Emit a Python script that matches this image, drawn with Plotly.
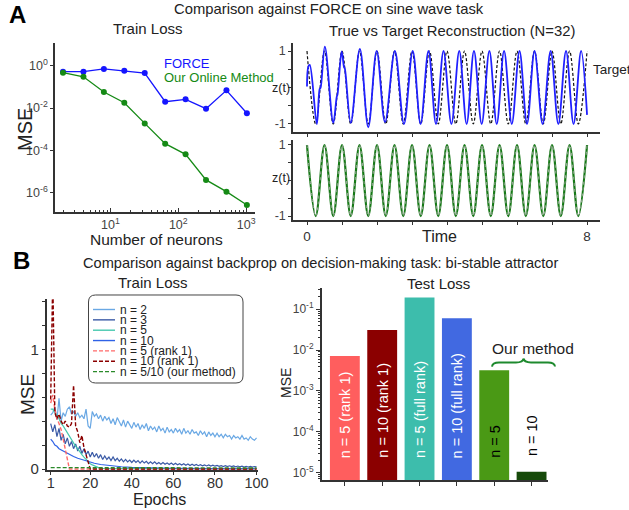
import plotly.graph_objects as go

W, H = 629, 510
FONT = "Liberation Sans, Arial, sans-serif"
AX = "#333333"
TXT = "#222222"


def fx(p):
    return p / W


def fy(p):
    return 1 - p / H


# ---------------- Panel A (left): train loss vs number of neurons ----------------
neurons = [2, 4, 8, 16, 32, 64, 128, 256, 512, 1024]
force_mse = [0.52, 0.52, 0.70, 0.58, 0.45, 0.020, 0.026, 0.0094, 0.069, 0.0057]
online_mse = [0.47, 0.30, 0.057, 0.018, 0.0019, 2.1e-4, 6.6e-5, 4.1e-6, 1.15e-6, 2.7e-7]
a_ytick_vals = [1, 1e-2, 1e-4, 1e-6]
a_ytick_text = ["10<sup>0</sup>", "10<sup>-2</sup>", "10<sup>-4</sup>", "10<sup>-6</sup>"]
a_xtick_vals = [10, 100, 1000]
a_xtick_text = ["10<sup>1</sup>", "10<sup>2</sup>", "10<sup>3</sup>"]

# ---------------- Panel A (right): reconstructions (extrema) ----------------
target_time = [0.0, 0.25, 0.5, 0.75, 1.0, 1.25, 1.5, 1.75, 2.0, 2.25, 2.5, 2.75, 3.0, 3.25, 3.5, 3.75,
               4.0, 4.25, 4.5, 4.75, 5.0, 5.25, 5.5, 5.75, 6.0, 6.25, 6.5, 6.75, 7.0, 7.25, 7.5, 7.75, 8.0]
target_z = [1, -1, 1, -1, 1, -1, 1, -1, 1, -1, 1, -1, 1, -1, 1, -1,
            1, -1, 1, -1, 1, -1, 1, -1, 1, -1, 1, -1, 1, -1, 1, -1, 1]
force_time = [0.0, 0.04, 0.08, 0.28, 0.36, 0.39, 0.51, 0.75, 0.85, 0.87, 0.99, 1.06, 1.08, 1.25,
              1.51, 1.75, 1.99, 2.23, 2.51, 2.77, 3.02, 3.245, 3.47, 3.685, 3.9, 4.125, 4.35, 4.56,
              4.77, 4.99, 5.21, 5.42, 5.63, 5.85, 6.07, 6.285, 6.5, 6.73, 6.96, 7.18, 7.4, 7.615,
              7.83, 8.0]
force_z = [0.03, 0.58, 0.62, -1.0, -0.05, 0.0, 1.12, -0.97, -0.25, -0.2, 0.99, 0.55, 0.52, -0.97,
           1.06, -1.09, 1.0, -0.95, 1.0, -1.0, 1.0, -1.0, 1.0, -1.0, 1.0, -1.0, 1.0, -1.0,
           1.0, -1.0, 1.0, -1.0, 1.0, -1.0, 1.0, -1.0, 1.0, -1.0, 1.0, -1.0, 1.0, -1.0,
           1.0, -0.75]
online_time = target_time
online_z = target_z

# ---------------- Panel B (left): train loss vs epochs ----------------
epochs = list(range(1, 101))
loss_n2 = [0.45, 0.47, 0.52, 0.41, 0.59, 0.40, 0.47, 0.44, 0.50, 0.52,
           0.46, 0.48, 0.44, 0.47, 0.43, 0.45, 0.42, 0.50, 0.36, 0.34,
           0.48, 0.44, 0.46, 0.42, 0.45, 0.40, 0.44, 0.41, 0.43, 0.38,
           0.42, 0.37, 0.43, 0.39, 0.36, 0.41, 0.35, 0.40, 0.37, 0.34,
           0.39, 0.35, 0.38, 0.33, 0.37, 0.34, 0.38, 0.32, 0.36, 0.33,
           0.35, 0.31, 0.36, 0.32, 0.34, 0.30, 0.35, 0.31, 0.33, 0.30,
           0.34, 0.31, 0.33, 0.29, 0.34, 0.30, 0.32, 0.29, 0.33, 0.30,
           0.31, 0.28, 0.32, 0.29, 0.31, 0.27, 0.31, 0.28, 0.30, 0.27,
           0.30, 0.27, 0.29, 0.26, 0.29, 0.27, 0.28, 0.25, 0.28, 0.26,
           0.27, 0.25, 0.28, 0.25, 0.26, 0.24, 0.27, 0.25, 0.24, 0.26]
loss_n3 = [0.38, 0.31, 0.37, 0.27, 0.34, 0.24, 0.29, 0.21, 0.26, 0.19,
           0.23, 0.17, 0.21, 0.15, 0.19, 0.13, 0.17, 0.12, 0.15, 0.10,
           0.14, 0.10, 0.13, 0.09, 0.12, 0.08, 0.11, 0.08, 0.10, 0.07,
           0.10, 0.07, 0.09, 0.065, 0.085, 0.06, 0.08, 0.06, 0.075, 0.055,
           0.075, 0.055, 0.07, 0.05, 0.068, 0.05, 0.065, 0.045, 0.06, 0.045,
           0.06, 0.042, 0.055, 0.04, 0.055, 0.04, 0.05, 0.038, 0.05, 0.036,
           0.048, 0.035, 0.045, 0.033, 0.044, 0.032, 0.042, 0.03, 0.04, 0.03,
           0.038, 0.028, 0.036, 0.027, 0.035, 0.026, 0.034, 0.025, 0.032, 0.024,
           0.03, 0.022, 0.029, 0.021, 0.028, 0.02, 0.027, 0.02, 0.026, 0.019,
           0.025, 0.018, 0.024, 0.017, 0.023, 0.017, 0.022, 0.016, 0.021, 0.018]
epochs_n5 = [1, 2, 3, 4, 5, 6, 7, 8, 9, 10, 11, 12, 13, 14, 15, 16, 17, 18, 19, 20, 21, 22, 23, 24,
             25, 26, 30, 40, 60, 80, 100]
loss_n5 = [0.50, 0.50, 0.47, 0.45, 0.42, 0.38, 0.36, 0.33, 0.30, 0.27, 0.25, 0.22, 0.19, 0.17,
           0.14, 0.12, 0.10, 0.08, 0.06, 0.045, 0.035, 0.025, 0.018, 0.012, 0.008, 0.005,
           0.004, 0.003, 0.002, 0.0015, 0.001]
epochs_n10 = [1, 2, 3, 4, 5, 6, 7, 8, 9, 10, 12, 14, 16, 18, 20, 22, 25, 30, 35, 40, 50, 60, 80, 100]
loss_n10 = [0.25, 0.23, 0.20, 0.19, 0.17, 0.16, 0.15, 0.14, 0.13, 0.12, 0.105, 0.09, 0.078, 0.067,
            0.057, 0.048, 0.038, 0.027, 0.019, 0.014, 0.009, 0.006, 0.004, 0.003]
epochs_r1_n5 = [1, 2, 3, 4, 5, 6, 7, 8, 9, 10, 100]
loss_r1_n5 = [0.55, 0.62, 0.50, 0.42, 0.38, 0.33, 0.25, 0.17, 0.08, 0.0, 0.0]
epochs_r1_n10 = [1, 2, 3, 4, 5, 6, 7, 8, 9, 10, 11, 12, 13, 14, 15, 16, 17, 18, 19, 20, 100]
loss_r1_n10 = [0.58, 1.60, 0.47, 0.42, 0.46, 0.40, 0.37, 0.40, 0.36, 0.35, 0.38, 0.70, 0.36, 0.31,
               0.22, 0.28, 0.18, 0.12, 0.05, 0.0, 0.0]
epochs_ours = [1, 100]
loss_ours = [0.012, 0.009]

# ---------------- Panel B (right): test loss ----------------
test_labels = ["n = 5 (rank 1)", "n = 10 (rank 1)", "n = 5 (full rank)", "n = 10 (full rank)",
               "n = 5", "n = 10"]
test_mse = [0.0072, 0.031, 0.195, 0.060, 0.0032, 1.05e-5]
bar_colors = ["#FF5E5E", "#8B0000", "#3DBDAC", "#4169E1", "#4A9915", "#164A0A"]
bar_text_colors = ["white", "white", "white", "white", "black", "black"]
b_ytick_vals = [1e-1, 1e-2, 1e-3, 1e-4, 1e-5]
b_ytick_text = ["10<sup>-1</sup>", "10<sup>-2</sup>", "10<sup>-3</sup>", "10<sup>-4</sup>", "10<sup>-5</sup>"]

# Legend entries of panel B (left)
legend_names = ["n = 2", "n = 3", "n = 5", "n = 10", "n = 5 (rank 1)", "n = 10 (rank 1)",
                "n = 5/10 (our method)"]
legend_colors = ["#6AA8E4", "#3A5AA6", "#46C8AE", "#2F62E6", "#FF6A6A", "#8B0000", "#2A8A2A"]
legend_dash = ["solid", "solid", "solid", "solid", "dash", "dash", "dash"]

fig = go.Figure()

# A left
fig.add_trace(go.Scatter(x=neurons, y=force_mse, mode="lines+markers", xaxis="x", yaxis="y",
                         line=dict(color="#1515FF", width=1.3), marker=dict(size=6, color="#1515FF")))
fig.add_trace(go.Scatter(x=neurons, y=online_mse, mode="lines+markers", xaxis="x", yaxis="y",
                         line=dict(color="#158A15", width=1.3), marker=dict(size=6, color="#158A15")))

# A right top
fig.add_trace(go.Scatter(x=target_time, y=target_z, mode="lines", xaxis="x2", yaxis="y2",
                         line=dict(color="#111111", width=1.2, dash="3px,2px", shape="spline")))
fig.add_trace(go.Scatter(x=force_time, y=force_z, mode="lines", xaxis="x2", yaxis="y2",
                         line=dict(color="#2020FF", width=1.8, shape="spline")))
# A right bottom
fig.add_trace(go.Scatter(x=online_time, y=online_z, mode="lines", xaxis="x3", yaxis="y3",
                         line=dict(color="#167A16", width=2.2, shape="spline")))
fig.add_trace(go.Scatter(x=target_time, y=target_z, mode="lines", xaxis="x3", yaxis="y3",
                         line=dict(color="#9AA59A", width=1.0, dash="3px,3px", shape="spline")))

# B left
series_b = [(epochs, loss_n2), (epochs, loss_n3), (epochs_n5, loss_n5), (epochs_n10, loss_n10),
            (epochs_r1_n5, loss_r1_n5), (epochs_r1_n10, loss_r1_n10), (epochs_ours, loss_ours)]
for (ex, ey), col, dsh in zip(series_b, legend_colors, legend_dash):
    fig.add_trace(go.Scatter(x=ex, y=ey, mode="lines", xaxis="x4", yaxis="y4",
                             line=dict(color=col, width=1.2 if dsh == "solid" else 1.4,
                                       dash="solid" if dsh == "solid" else "4px,2px")))

# B right
fig.add_trace(go.Bar(x=test_labels, y=test_mse, xaxis="x5", yaxis="y5", width=0.8,
                     marker=dict(color=bar_colors, line=dict(width=0))))


def axis(**kw):
    base = dict(showgrid=False, zeroline=False, showline=True, linecolor=AX, linewidth=1.5,
                tickcolor=AX, automargin=False,
                tickfont=dict(family=FONT, size=12.5, color="#444444"))
    base.update(kw)
    return base


minor_log_x = [m * 10 ** k for k in range(0, 4) for m in range(2, 10) if m * 10 ** k < 1400]
minor_log_b = [m * 10.0 ** k for k in range(-6, 0) for m in range(2, 10)]

fig.update_layout(
    template="none",
    width=W, height=H, margin=dict(l=0, r=0, t=0, b=0, autoexpand=False),
    paper_bgcolor="white", plot_bgcolor="white", showlegend=False,
    font=dict(family=FONT, color=TXT),
    xaxis=axis(domain=[fx(55), fx(255)], anchor="y", type="log", range=[0.183, 3.13],
               tickvals=a_xtick_vals, ticktext=a_xtick_text, ticks="inside", ticklen=4,
               minor=dict(tickmode="array", tickvals=minor_log_x, ticks="inside", ticklen=2,
                          tickcolor=AX, showgrid=False)),
    yaxis=axis(domain=[fy(212), fy(43)], anchor="x", type="log", range=[-6.9, 1.07],
               tickvals=a_ytick_vals, ticktext=a_ytick_text, ticks="outside", ticklen=3),
    xaxis2=axis(domain=[fx(293), fx(600)], anchor="y2", range=[-0.4, 8.37],
                tickvals=[0, 1, 2, 3, 4, 5, 6, 7, 8], showticklabels=False,
                ticks="outside", ticklen=3),
    yaxis2=axis(domain=[fy(132), fy(43)], anchor="x2", range=[-1.22, 1.22],
                tickvals=[-1, -0.5, 0, 0.5, 1], ticktext=["-1", "", "", "", "1"],
                ticks="outside", ticklen=3),
    xaxis3=axis(domain=[fx(293), fx(600)], anchor="y3", range=[-0.4, 8.37],
                tickvals=[0, 1, 2, 3, 4, 5, 6, 7, 8], ticktext=["0", "", "", "", "", "", "", "", "8"],
                ticks="outside", ticklen=3, tickfont=dict(family=FONT, size=13.5, color="#333333")),
    yaxis3=axis(domain=[fy(220), fy(140)], anchor="x3", range=[-1.11, 1.14],
                tickvals=[-1, -0.5, 0, 0.5, 1], ticktext=["-1", "", "", "", "1"],
                ticks="outside", ticklen=3),
    xaxis4=axis(domain=[fx(46.7), fx(258)], anchor="y4", range=[-0.92, 100.7],
                tickvals=[1, 20, 40, 60, 80, 100], ticks="outside", ticklen=3,
                ticklabelstandoff=-4,
                tickfont=dict(family=FONT, size=14.5, color="#333333")),
    yaxis4=axis(domain=[fy(470), fy(299)], anchor="x4", range=[-0.008, 1.42],
                tickvals=[0, 0.2, 0.4, 0.6, 0.8, 1.0, 1.2, 1.4],
                ticktext=["0", "", "", "", "", "1", "", ""], ticks="outside", ticklen=3,
                tickfont=dict(family=FONT, size=15, color="#333333")),
    xaxis5=axis(domain=[fx(321.7), fx(548)], anchor="y5", type="category", range=[-0.62, 5.44],
                showticklabels=False, ticks="outside", ticklen=4),
    yaxis5=axis(domain=[fy(480), fy(288)], anchor="x5", type="log", range=[-5.18, -0.48],
                tickvals=b_ytick_vals, ticktext=b_ytick_text, ticks="outside", ticklen=4,
                tickfont=dict(family=FONT, size=12, color="#444444"),
                minor=dict(tickmode="array", tickvals=minor_log_b, ticks="outside", ticklen=2,
                           tickcolor=AX, showgrid=False)),
    bargap=0.2,
)

ann = []


def text(t, x, y, size, color=TXT, angle=0, xanchor="center", yanchor="middle", bold=False):
    ann.append(dict(text=f"<b>{t}</b>" if bold else t, x=x, y=y, xref="paper", yref="paper",
                    showarrow=False, textangle=angle, xanchor=xanchor, yanchor=yanchor,
                    font=dict(family=FONT, size=size, color=color)))


text("A", fx(17), fy(14), 24, bold=True, color="black")
text("B", fx(21), fy(260), 24, bold=True, color="black")
text("Comparison against FORCE on sine wave task", fx(329), fy(9), 14.8)
text("Train Loss", fx(147), fy(28), 15)
text("True vs Target Reconstruction (N=32)", fx(452), fy(31), 14.8)
text("FORCE", fx(162), fy(63), 13, color="#1515FF", xanchor="left")
text("Our Online Method", fx(162), fy(77), 13, color="#158A15", xanchor="left")
text("MSE", fx(25), fy(130), 20, angle=-90)
text("Number of neurons", fx(156), fy(239), 15.5)
text("z(t)", fx(281), fy(88), 12.5)
text("z(t)", fx(281), fy(178), 12.5)
text("Target", fx(591), fy(70), 13.5, xanchor="left")
text("Time", fx(439), fy(236), 16)
text("Comparison against backprop on decision-making task: bi-stable attractor", fx(320), fy(263), 14.6)
text("Train Loss", fx(152), fy(282), 15)
text("Test Loss", fx(438), fy(283), 15)
text("MSE", fx(27), fy(395), 19, angle=-90)
text("Epochs", fx(159), fy(499), 16)
text("MSE", fx(286), fy(383), 14, angle=-90)
text("Our method", fx(533), fy(348), 15.5)

# bar labels (rotated) anchored at their bottom
for i, (lab, col) in enumerate(zip(test_labels, bar_text_colors)):
    ybot = 460 if i < 5 else 458
    ann.append(dict(text=lab, x=lab, y=fy(ybot), xref="x5", yref="paper", showarrow=False,
                    textangle=-90, xanchor="center", yanchor="bottom",
                    font=dict(family=FONT, size=14.5, color=col)))

# legend of panel B left
shapes = []
for k, (name, col, dsh) in enumerate(zip(legend_names, legend_colors, legend_dash)):
    yy = 309.5 + k * 10.35
    shapes.append(dict(type="line", xref="paper", yref="paper", x0=fx(93), x1=fx(115),
                       y0=fy(yy), y1=fy(yy),
                       line=dict(color=col, width=1.4, dash="solid" if dsh == "solid" else "4px,2px")))
    text(name, fx(118), fy(yy), 12, xanchor="left")


def P(px, py):
    return f"{fx(px):.5f},{fy(py):.5f}"


x0, y0, x1, y1, r = 88.5, 295, 243, 383, 7
legend_path = (f"M {P(x0 + r, y0)} L {P(x1 - r, y0)} Q {P(x1, y0)} {P(x1, y0 + r)} "
               f"L {P(x1, y1 - r)} Q {P(x1, y1)} {P(x1 - r, y1)} L {P(x0 + r, y1)} "
               f"Q {P(x0, y1)} {P(x0, y1 - r)} L {P(x0, y0 + r)} Q {P(x0, y0)} {P(x0 + r, y0)} Z")
shapes.append(dict(type="path", xref="paper", yref="paper", path=legend_path,
                   line=dict(color="#444444", width=1), fillcolor="rgba(255,255,255,0)"))

brace_path = (f"M {P(492, 366.5)} Q {P(492.5, 362.5)} {P(499, 362.5)} L {P(516, 362.5)} "
              f"Q {P(523, 362.5)} {P(523.5, 358.5)} Q {P(524, 362.5)} {P(531, 362.5)} "
              f"L {P(548, 362.5)} Q {P(554.5, 362.5)} {P(555, 366.5)}")
shapes.append(dict(type="path", xref="paper", yref="paper", path=brace_path,
                   line=dict(color="#1E8A2E", width=2)))

fig.update_layout(annotations=ann, shapes=shapes)
fig.write_html("out.html")
